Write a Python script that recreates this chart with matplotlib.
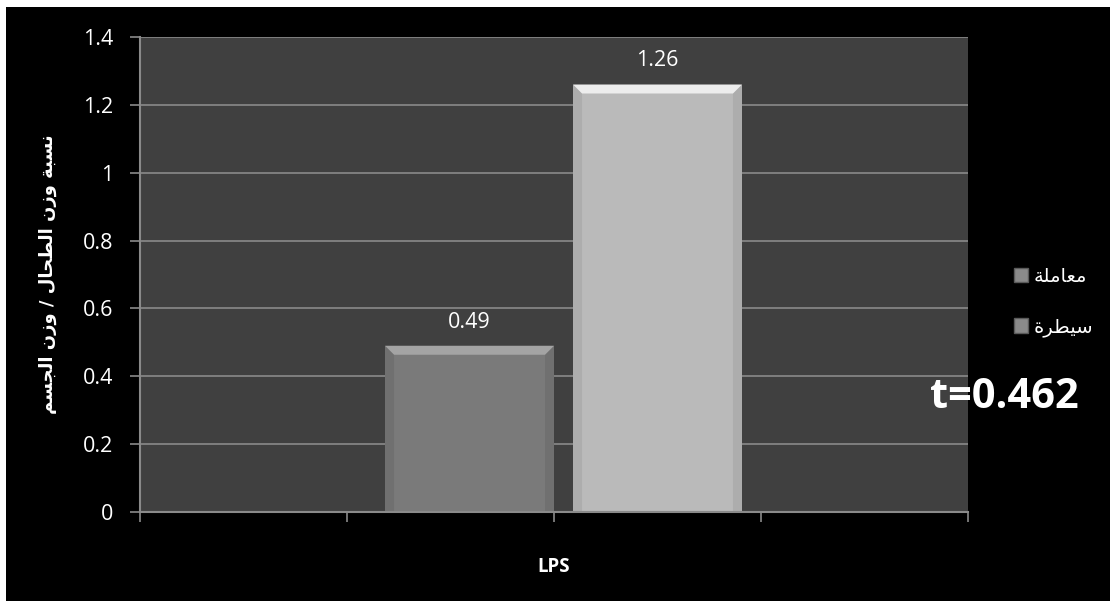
import matplotlib
matplotlib.use("Agg")
import matplotlib.pyplot as plt
from matplotlib.patches import Rectangle, Polygon, Patch

# ---- data -------------------------------------------------------------
categories = ["LPS"]
series_names = ["معاملة", "سيطرة"]
series_values = [0.49, 1.26]
y_ticks = [0, 0.2, 0.4, 0.6, 0.8, 1.0, 1.2, 1.4]
y_tick_labels = ["0", "0.2", "0.4", "0.6", "0.8", "1", "1.2", "1.4"]
y_title = "نسبة وزن الطحال / وزن الجسم"
stat_text = "t=0.462"

# ---- minimal Arabic shaping (presentation forms + visual order) --------
FORMS = {  # isolated, final, initial, medial
    "ا": ("\uFE8D", "\uFE8E", None, None),
    "ب": ("\uFE8F", "\uFE90", "\uFE91", "\uFE92"),
    "ة": ("\uFE93", "\uFE94", None, None),
    "ج": ("\uFE9D", "\uFE9E", "\uFE9F", "\uFEA0"),
    "ح": ("\uFEA1", "\uFEA2", "\uFEA3", "\uFEA4"),
    "ر": ("\uFEAD", "\uFEAE", None, None),
    "ز": ("\uFEAF", "\uFEB0", None, None),
    "س": ("\uFEB1", "\uFEB2", "\uFEB3", "\uFEB4"),
    "ط": ("\uFEC1", "\uFEC2", "\uFEC3", "\uFEC4"),
    "ع": ("\uFEC9", "\uFECA", "\uFECB", "\uFECC"),
    "ل": ("\uFEDD", "\uFEDE", "\uFEDF", "\uFEE0"),
    "م": ("\uFEE1", "\uFEE2", "\uFEE3", "\uFEE4"),
    "ن": ("\uFEE5", "\uFEE6", "\uFEE7", "\uFEE8"),
    "و": ("\uFEED", "\uFEEE", None, None),
    "ي": ("\uFEF1", "\uFEF2", "\uFEF3", "\uFEF4"),
}


def shape(text):
    out = []
    n = len(text)
    for i, ch in enumerate(text):
        if ch not in FORMS:
            out.append(ch)
            continue
        prev = text[i - 1] if i > 0 else ""
        nxt = text[i + 1] if i < n - 1 else ""
        joins_prev = prev in FORMS and FORMS[prev][2] is not None
        joins_next = nxt in FORMS and FORMS[ch][2] is not None
        iso, fin, ini, med = FORMS[ch]
        if joins_prev and joins_next:
            out.append(med)
        elif joins_prev:
            out.append(fin)
        elif joins_next:
            out.append(ini)
        else:
            out.append(iso)
    return "".join(out)[::-1]


# ---- figure -----------------------------------------------------------
W, H = 1110, 601
fig = plt.figure(figsize=(W / 100, H / 100), dpi=100, facecolor="white")
fig.patches.append(Rectangle((6 / W, 0), 1, 1 - 7 / H, transform=fig.transFigure,
                             facecolor="black", edgecolor="none", zorder=-10))

ax = fig.add_axes([140 / W, 89 / H, 828 / W, 475 / H])
ax.set_facecolor("#404040")

grid_c = "#8a8a8a"
bar_colors = ["#7a7a7a", "#bababa"]
top_colors = ["#a4a4a4", "#ededed"]
side_colors = ["#707070", "#adadad"]

width = 0.204
gap = 0.023
positions = [-width / 2, width / 2 + gap]

ax.set_xlim(-0.5, 0.5)
ax.set_ylim(0, 1.4)

bars = []
for pos, val, col, name in zip(positions, series_values, bar_colors, series_names):
    b = ax.bar(pos, val, width=width, color=col, edgecolor="none", zorder=3,
               label=shape(name))
    bars.append(b[0])

# bevel decoration on each bar
dx = 9 / 828
dy = 9 / 475 * 1.4
for rect, tc, sc in zip(bars, top_colors, side_colors):
    x0 = rect.get_x()
    x1 = x0 + rect.get_width()
    top = rect.get_height()
    ax.add_patch(Polygon([(x0, 0), (x0 + dx, 0), (x0 + dx, top - dy), (x0, top)],
                         closed=True, facecolor=sc, edgecolor="none", zorder=4))
    ax.add_patch(Polygon([(x1, 0), (x1 - dx, 0), (x1 - dx, top - dy), (x1, top)],
                         closed=True, facecolor=sc, edgecolor="none", zorder=4))
    ax.add_patch(Polygon([(x0, top), (x1, top), (x1 - dx, top - dy), (x0 + dx, top - dy)],
                         closed=True, facecolor=tc, edgecolor="none", zorder=4))
    ax.annotate(f"{top:.2f}", xy=(rect.get_x() + rect.get_width() / 2, top),
                xytext=(0, 17), textcoords="offset points", ha="center",
                va="center", color="white", fontsize=15.5, family="Open Sans",
                zorder=5)

# axes styling
ax.set_yticks(y_ticks)
ax.set_yticklabels(y_tick_labels)
ax.yaxis.grid(True, color=grid_c, linewidth=1.2, zorder=1)
ax.set_axisbelow(True)
for s in ["top", "right"]:
    ax.spines[s].set_visible(False)
for s in ["left", "bottom"]:
    ax.spines[s].set_color(grid_c)
    ax.spines[s].set_linewidth(1.5)
    ax.spines[s].set_zorder(6)

ax.tick_params(axis="y", direction="out", length=7, color=grid_c, width=1.2,
               labelcolor="white", labelsize=15.5, pad=12)
for lab in ax.get_yticklabels():
    lab.set_family("Open Sans")

ax.set_xticks([0.0])
ax.set_xticklabels([""])
ax.set_xticks([-0.5, -0.25, 0.0, 0.25, 0.5], minor=True)
ax.tick_params(axis="x", which="both", direction="out", length=7, color=grid_c,
               width=1.2)
ax.set_xlabel(categories[0], color="white", fontsize=13.5, fontweight="bold",
              family="Open Sans")
ax.xaxis.set_label_coords(0.5, -0.095)

ax.set_ylabel(shape(y_title), color="white", fontsize=13, fontweight="bold",
              family="DejaVu Sans")
ax.yaxis.set_label_coords(-0.1, 0.5)

# legend
handles = [Patch(facecolor=c, edgecolor="#5a5a5a", label=shape(n))
           for c, n in zip(["#8a8a8a", "#8a8a8a"], series_names)]
leg = fig.legend(handles=handles, loc="center left",
                 bbox_to_anchor=(996 / W, 1 - 302 / H), frameon=False,
                 handlelength=0.75, handleheight=0.75, handletextpad=0.3,
                 labelspacing=1.6, prop={"family": "DejaVu Sans", "size": 14})
for t in leg.get_texts():
    t.set_color("white")

fig.text(930 / W, 1 - 398 / H, stat_text, color="white", fontsize=30,
         fontweight="bold", family="Open Sans", va="center", ha="left")

fig.savefig("out.png", dpi=100, facecolor=fig.get_facecolor())
